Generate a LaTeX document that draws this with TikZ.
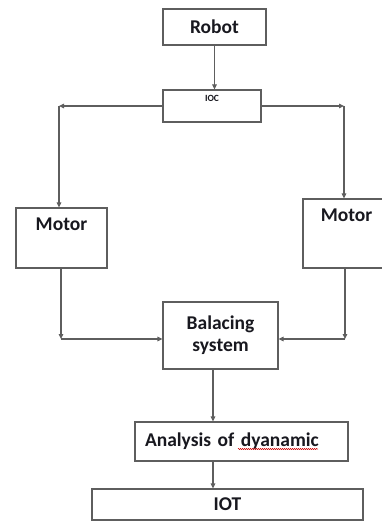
\documentclass[tikz,border=0pt]{standalone}
\usepackage{fontspec}
\setmainfont{Carlito}
\usetikzlibrary{positioning, calc, arrows.meta, decorations.pathmorphing}

\definecolor{linegray}{HTML}{5E5E5E}
\definecolor{txtdark}{HTML}{18181F}
\tikzset{
  blk/.style={draw=linegray, line width=1.1pt, fill=white, inner sep=0pt,
              text=txtdark, font=\bfseries\fontsize{19.5}{22}\selectfont},
  flow/.style={draw=linegray, line width=1.1pt, -{Triangle[length=5pt,width=4.5pt]}},
}

\begin{document}
\begin{tikzpicture}[x=1pt, y=-1pt]
    \useasboundingbox (0,0) rectangle (382,521);

    % --- TOP BLOCKS ---
    \node[blk, minimum width=103pt, minimum height=36pt] (robot) at (214.5,27) {Robot};
    \node[blk, minimum width=98pt, text height=12pt, text depth=20pt,
          font=\bfseries\fontsize{9.5}{11}\selectfont] (ioc) at (212,106) {IOC};

    % --- MOTORS ---
    \node[blk, minimum width=91pt, text height=22pt, text depth=38pt] (motorL) at (61.5,238) {Motor};
    \node[blk, minimum width=87pt, text height=23pt, text depth=46pt] (motorR) at (346.5,233.5) {Motor};

    % --- LOWER CHAIN ---
    \node[blk, minimum width=115pt, minimum height=67pt, align=center] (bal) at (220.5,335.5) {Balacing\\system};
    \node[blk, text width=193pt, inner xsep=10pt, minimum height=39pt, align=left] (ana) at (241.5,441.5) {Analysis of dyanamic};
    \node[blk, minimum width=271pt, minimum height=31pt] (iot) at (227.5,504.5) {IOT};

    % --- CORNER POINTS ---
    \coordinate (tl) at (59,106);
    \coordinate (tr) at (344,106);
    \coordinate (bl) at (61,339);
    \coordinate (br) at (345,339);
    \coordinate (spine) at (213,395);

    % --- CONNECTIONS ---
    \draw[flow] (robot.south) -- (robot.south |- ioc.north);
    \draw[flow] (ioc.west) -- (tl);
    \draw[flow] (tl) -- (tl |- motorL.north);
    \draw[flow] (ioc.east) -- (tr);
    \draw[flow] (tr) -- (tr |- motorR.north);
    \draw[flow] (bl |- motorL.south) -- (bl);
    \draw[flow] (bl) -- (bl -| bal.west);
    \draw[flow] (br |- motorR.south) -- (br);
    \draw[flow] (br) -- (br -| bal.east);
    \draw[flow] (spine |- bal.south) -- (spine |- ana.north);
    \draw[flow] (spine |- ana.south) -- (spine |- iot.north);

    % spell-check mark under the misspelt word
    \draw[red!80!black, line width=0.5pt, decorate,
          decoration={snake, amplitude=0.6pt, segment length=2pt}] (238,449) -- (318,449);

\end{tikzpicture}
\end{document}
